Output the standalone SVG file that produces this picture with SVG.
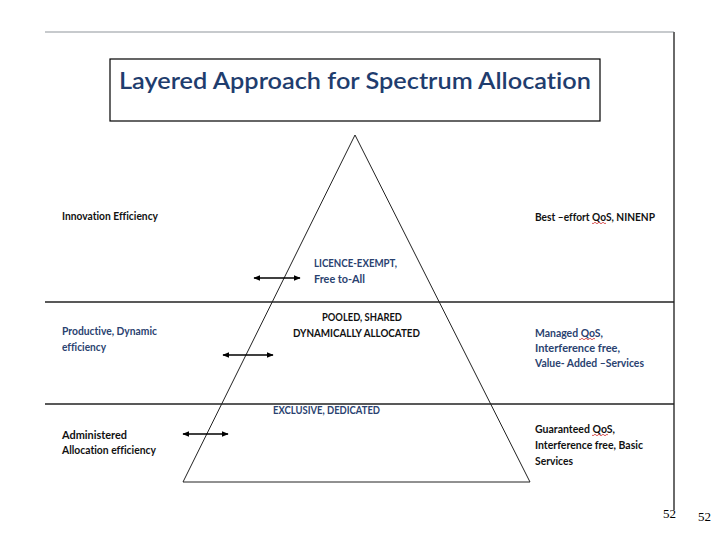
<svg xmlns="http://www.w3.org/2000/svg" width="720" height="540" viewBox="0 0 720 540">
<style>
text{font-variant-ligatures:none;font-feature-settings:"liga" 0}
.t{font-family:Lato,"Liberation Sans",sans-serif;font-weight:bold;font-size:11px}
.k{fill:#111}
.b{fill:#2a4270}
.sq{fill:none;stroke:#d03030;stroke-width:0.8}
.ln{stroke:#222;stroke-width:1.3}
</style>
<defs>
<marker id="ah" viewBox="0 0 10 10" refX="9" refY="5" markerWidth="7" markerHeight="7" orient="auto-start-reverse" markerUnits="userSpaceOnUse">
<path d="M0,1 L10,5 L0,9 Z" fill="#000"/>
</marker>
</defs>
<rect width="720" height="540" fill="#fff"/>
<g id="frame">
<line x1="45" y1="32" x2="674" y2="32" stroke="#b4b8bc" stroke-width="1.5"/>
<line x1="674" y1="32" x2="674" y2="510" stroke="#6a6a6a" stroke-width="2"/>
<line class="ln" x1="45" y1="302" x2="674" y2="302"/>
<line class="ln" x1="45" y1="404" x2="674" y2="404"/>
</g>
<g id="title">
<rect x="110" y="59" width="490" height="62" fill="#fff" stroke="#000" stroke-width="1.2"/>
<text x="119" y="89" font-family="Lato,'Liberation Sans',sans-serif" font-size="22" font-weight="600" fill="#1f3d6e" textLength="472" lengthAdjust="spacingAndGlyphs">Layered Approach for Spectrum Allocation</text>
</g>
<g id="pyramid">
<path d="M355,135 L183,482 L530,482 Z" fill="none" stroke="#222" stroke-width="1"/>
</g>
<g id="connectors">
<line x1="254" y1="278" x2="300" y2="278" stroke="#000" stroke-width="1.3" marker-start="url(#ah)" marker-end="url(#ah)"/>
<line x1="223" y1="355" x2="273" y2="355" stroke="#000" stroke-width="1.3" marker-start="url(#ah)" marker-end="url(#ah)"/>
<line x1="183" y1="434" x2="228" y2="434" stroke="#000" stroke-width="1.3" marker-start="url(#ah)" marker-end="url(#ah)"/>
</g>
<g id="left-labels">
<text class="t k" x="62" y="220" textLength="96" lengthAdjust="spacingAndGlyphs">Innovation Efficiency</text>
<text class="t b" x="62" y="335" textLength="95" lengthAdjust="spacingAndGlyphs">Productive, Dynamic</text>
<text class="t b" x="62" y="351" textLength="44" lengthAdjust="spacingAndGlyphs">efficiency</text>
<text class="t k" x="62" y="439" textLength="65" lengthAdjust="spacingAndGlyphs">Administered</text>
<text class="t k" x="62" y="454" textLength="94" lengthAdjust="spacingAndGlyphs">Allocation efficiency</text>
</g>
<g id="center-labels">
<text class="t b" x="314" y="267" textLength="83" lengthAdjust="spacingAndGlyphs">LICENCE-EXEMPT,</text>
<text class="t b" x="314" y="283" textLength="51" lengthAdjust="spacingAndGlyphs">Free to-All</text>
<text class="t k" x="322" y="321" textLength="80" lengthAdjust="spacingAndGlyphs">POOLED, SHARED</text>
<text class="t k" x="293" y="337" textLength="127" lengthAdjust="spacingAndGlyphs">DYNAMICALLY ALLOCATED</text>
<text class="t b" x="273" y="414" textLength="107" lengthAdjust="spacingAndGlyphs">EXCLUSIVE, DEDICATED</text>
</g>
<g id="right-labels">
<text class="t k" x="535" y="221" textLength="120" lengthAdjust="spacingAndGlyphs">Best –effort QoS, NINENP</text>
<text class="t b" x="535" y="337" textLength="68" lengthAdjust="spacingAndGlyphs">Managed QoS,</text>
<text class="t b" x="535" y="352" textLength="85" lengthAdjust="spacingAndGlyphs">Interference free,</text>
<text class="t b" x="535" y="367" textLength="109" lengthAdjust="spacingAndGlyphs">Value- Added –Services</text>
<text class="t k" x="535" y="433" textLength="80" lengthAdjust="spacingAndGlyphs">Guaranteed QoS,</text>
<text class="t k" x="535" y="449" textLength="108" lengthAdjust="spacingAndGlyphs">Interference free, Basic</text>
<text class="t k" x="535" y="465" textLength="38" lengthAdjust="spacingAndGlyphs">Services</text>
<path class="sq" d="M592,223 q1,1.5 2,0 t2,0 t2,0 t2,0 t2,0 t2,0 t2,0"/>
<path class="sq" d="M579,339 q1,1.5 2,0 t2,0 t2,0 t2,0 t2,0 t2,0 t2,0 t2,0"/>
<path class="sq" d="M592,435 q1,1.5 2,0 t2,0 t2,0 t2,0 t2,0 t2,0 t2,0 t2,0"/>
</g>
<g id="page-numbers">
<text x="663" y="518" font-family="'Liberation Serif',serif" font-size="13" fill="#000">52</text>
<text x="698" y="521" font-family="'Liberation Serif',serif" font-size="13" fill="#000">52</text>
</g>
</svg>
